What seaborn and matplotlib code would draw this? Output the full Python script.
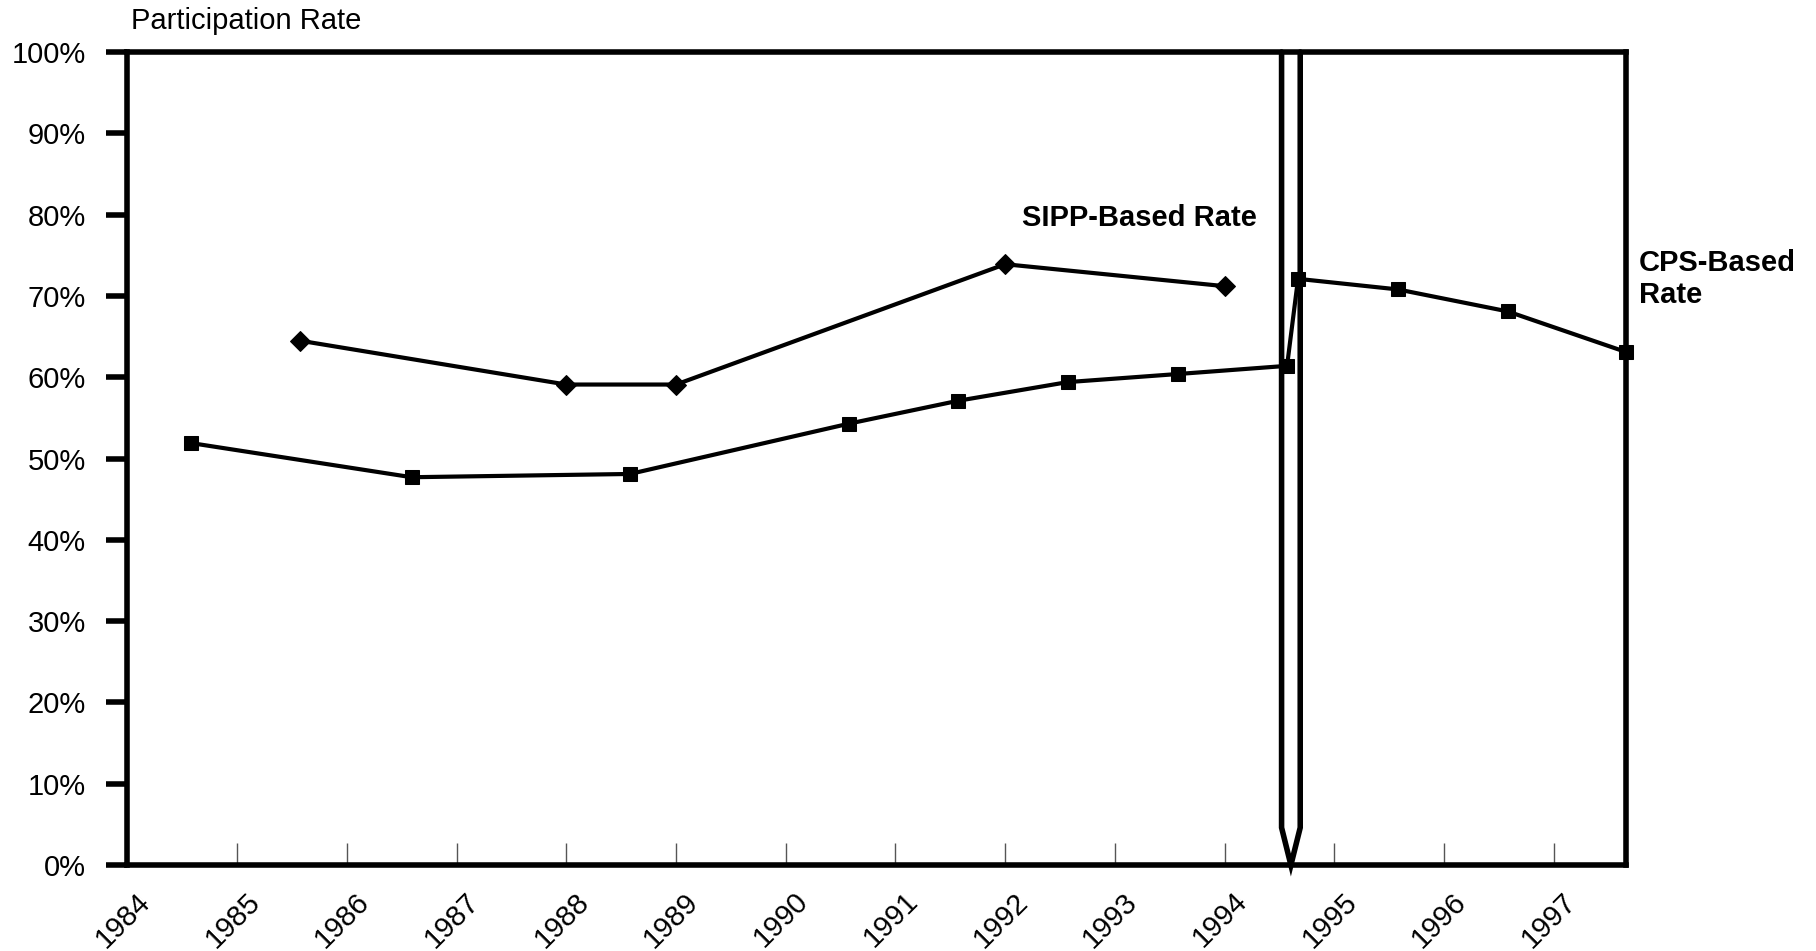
import numpy as np
import pandas as pd
import matplotlib.pyplot as plt
import matplotlib.transforms as mtransforms
import seaborn as sns

# Data (x = calendar year position)
cps_years = [1984.58, 1986.59, 1988.58, 1990.58, 1991.57, 1992.57, 1993.58, 1994.57,
             1994.67, 1995.58, 1996.58, 1997.66]
cps_rates = [51.9, 47.7, 48.1, 54.3, 57.1, 59.4, 60.4, 61.4, 72.1, 70.8, 68.1, 63.1]

sipp_years = [1985.57, 1988.0, 1989.0, 1992.0, 1994.0]
sipp_rates = [64.5, 59.1, 59.1, 73.9, 71.2]

year_ticks = list(range(1984, 1998))
pct_ticks = list(range(0, 101, 10))

# break marker between old and new CPS series
break_left, break_right, break_tip, break_foot = 1994.52, 1994.69, 1994.605, 4.6


def main():
    sns.set_theme(style="white")
    plt.rcParams['font.family'] = ['Liberation Sans', 'DejaVu Sans']
    plt.rcParams['text.color'] = 'black'
    plt.rcParams['xtick.labelcolor'] = 'black'
    plt.rcParams['ytick.labelcolor'] = 'black'

    fig, ax = plt.subplots(figsize=(18.16, 9.51), dpi=100)
    fig.subplots_adjust(left=0.0702, right=0.8954, top=0.9453, bottom=0.0904)

    cps = pd.DataFrame({"year": cps_years, "rate": cps_rates})
    sipp = pd.DataFrame({"year": sipp_years, "rate": sipp_rates})

    sns.lineplot(data=cps, x="year", y="rate", ax=ax, color="black", linewidth=3.0,
                 marker="s", markersize=10.5, markeredgecolor="black", clip_on=False)
    sns.lineplot(data=sipp, x="year", y="rate", ax=ax, color="black", linewidth=3.0,
                 marker="D", markersize=10.5, markeredgecolor="black", clip_on=False)

    # axis break symbol
    ax.plot([break_left, break_left, break_tip, break_right, break_right],
            [100, break_foot, 0, break_foot, 100], color="black", linewidth=4.0,
            solid_joinstyle="miter", clip_on=False, zorder=1)

    ax.set_xlim(1984, cps_years[-1])
    ax.set_ylim(0, 100)
    ax.set_xlabel("")
    ax.set_ylabel("")

    ax.set_yticks(pct_ticks)
    ax.set_yticklabels([f"{p}%" for p in pct_ticks], fontsize=21)
    ax.set_xticks(year_ticks)
    ax.set_xticklabels([str(y) for y in year_ticks], fontsize=21, rotation=45,
                       ha="right", va="top", rotation_mode="anchor")

    for s in ax.spines.values():
        s.set_color("black")
        s.set_linewidth(4.0)

    ax.tick_params(axis="y", direction="out", length=15, width=4.0, color="black",
                   pad=15, left=True)
    ax.tick_params(axis="x", direction="in", length=16, width=1.0, color="#555555",
                   pad=16, bottom=True)
    ax.grid(False)

    fig.text(0.072, 0.978, "Participation Rate", fontsize=21, ha="left", va="center")
    ax.text(1992.15, 79.6, "SIPP-Based Rate", fontsize=21, fontweight="bold",
            ha="left", va="center")
    ax.text(1997.78, 72.1, "CPS-Based\nRate", fontsize=21, fontweight="bold",
            ha="left", va="center", linespacing=1.2, clip_on=False)

    # nudge the rotated year labels a little to the right, like the original
    fig.canvas.draw()
    shift = mtransforms.ScaledTranslation(6 / 72, 0, fig.dpi_scale_trans)
    for tick in ax.xaxis.get_major_ticks():
        tick.label1.set_transform(tick.label1.get_transform() + shift)

    fig.savefig("out.png", dpi=100, facecolor="white")
    plt.close(fig)


if __name__ == "__main__":
    main()
